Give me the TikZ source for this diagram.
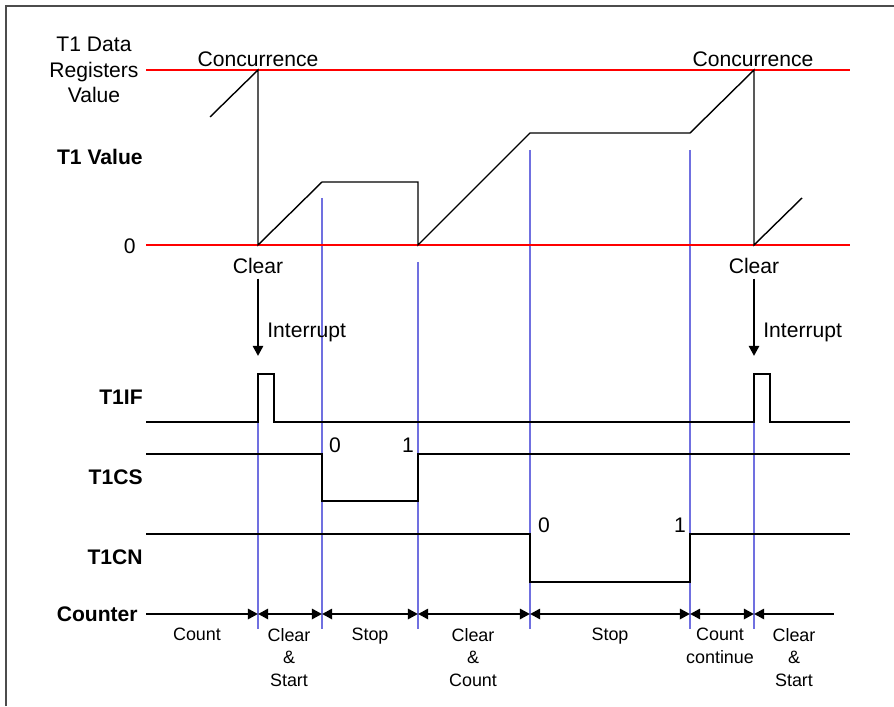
\documentclass[tikz,border=0pt]{standalone}
\usepackage{fontspec}
\setmainfont{Liberation Sans}
\usetikzlibrary{arrows.meta}

\definecolor{markblue}{RGB}{112,112,224}

\tikzset{
	lbl/.style={font=\fontsize{12}{14.5}\selectfont, inner sep=0pt},
	signame/.style={font=\fontsize{12}{14.5}\selectfont\bfseries, inner sep=0pt, anchor=east},
	phase/.style={font=\fontsize{10.2}{12.8}\selectfont, inner sep=0pt, anchor=north, align=center},
	level/.style={red, line width=0.7pt},
	wave/.style={black, line width=0.8pt},
	marker/.style={markblue, line width=1pt},
	cntarrow/.style={line width=1.7pt, arrows={-}},
	intarrow/.style={line width=1.4pt, -{Triangle[length=5.8pt,width=5.8pt]}},
	frameline/.style={black!70, line width=1.1pt}
}

\begin{document}
\begin{tikzpicture}
	
	\useasboundingbox (0,0) rectangle (17.88,14.12);
	
	% Frame
	\draw [frameline] (0.12,0) -- (0.12,14.0) -- (17.88,14.0);
	
	% Markers
	\foreach \x/\top in {5.16/5.68, 6.44/10.16, 8.36/8.88, 10.6/11.12, 13.8/11.12, 15.08/5.68}
	{
		\draw [marker] (\x,\top) -- (\x,1.54);
	}
	
	%% T1 VALUE
	% Labels
	\node [lbl, align=center] (regval) at (1.88,12.72) {T1 Data\\Registers\\Value};
	\node [signame] (t1val) at (2.86,10.98) {T1 Value};
	\node [lbl, anchor=east] (zero) at (2.72,9.2) {0};
	
	% Levels
	\draw [level] (2.92,12.72) -- (17.0,12.72);
	\draw [level] (2.92,9.22) -- (17.0,9.22);
	
	% Counting
	\draw [wave] (4.2,11.78) -- (5.16,12.72) -- (5.16,9.22) -- (6.44,10.48) -- (8.36,10.48)
		-- (8.36,9.22) -- (10.6,11.46) -- (13.8,11.46) -- (15.08,12.72) -- (15.08,9.22) -- (16.04,10.16);
	
	\node [lbl, anchor=south] (conc1) at (5.16,12.78) {Concurrence};
	\node [lbl, anchor=south] (conc2) at (15.06,12.78) {Concurrence};
	\node [lbl] (clr1) at (5.16,8.81) {Clear};
	\node [lbl] (clr2) at (15.08,8.81) {Clear};
	
	% Interrupts
	\coordinate (int1) at (5.16,7.0);
	\coordinate (int2) at (15.08,7.0);
	\draw [intarrow, shorten <=0.1cm] (clr1) -- (int1);
	\draw [intarrow, shorten <=0.1cm] (clr2) -- (int2);
	\node [lbl, anchor=west] (intlbl1) at (5.34,7.48) {Interrupt};
	\node [lbl, anchor=west] (intlbl2) at (15.26,7.48) {Interrupt};
	
	%% FLAGS
	% T1IF
	\node [signame] (t1if) at (2.86,6.18) {T1IF};
	\draw [wave] (2.92,5.68) -- (5.16,5.68) -- (5.16,6.64) -- (5.48,6.64) -- (5.48,5.68)
		-- (15.08,5.68) -- (15.08,6.64) -- (15.40,6.64) -- (15.40,5.68) -- (17.0,5.68);
	
	% T1CS
	\node [signame] (t1cs) at (2.86,4.58) {T1CS};
	\draw [wave] (2.92,5.04) -- (6.44,5.04) -- (6.44,4.10) -- (8.36,4.10) -- (8.36,5.04) -- (17.0,5.04);
	\node [lbl] (cs0) at (6.7,5.22) {0};
	\node [lbl] (cs1) at (8.16,5.22) {1};
	
	% T1CN
	\node [signame] (t1cn) at (2.86,2.98) {T1CN};
	\draw [wave] (2.92,3.44) -- (10.6,3.44) -- (10.6,2.48) -- (13.8,2.48) -- (13.8,3.44) -- (17.0,3.44);
	\node [lbl] (cn0) at (10.88,3.62) {0};
	\node [lbl] (cn1) at (13.6,3.62) {1};
	
	%% COUNTER
	\node [signame] (cnt) at (2.76,1.84) {Counter};
	
	% Boundaries
	\foreach \n/\x in {a/2.92, b/5.16, c/6.44, d/8.36, e/10.6, f/13.8, g/15.08, h/16.68}
	{
		\coordinate (c\n) at (\x,1.84);
	}
	
	% Phases
	\draw [cntarrow, -{Triangle[length=5.8pt,width=5.8pt]}] (ca) -- (cb);
	\foreach \p/\q in {b/c, c/d, d/e, e/f, f/g}
	{
		\draw [cntarrow, {Triangle[length=5.8pt,width=5.8pt]}-{Triangle[length=5.8pt,width=5.8pt]}] (c\p) -- (c\q);
	}
	\draw [cntarrow, {Triangle[length=5.8pt,width=5.8pt]}-] (cg) -- (ch);
	
	\node [phase] (ph1) at (3.94,1.56) {Count};
	\node [phase] (ph2) at (5.78,1.56) {Clear\\\&\\Start};
	\node [phase] (ph3) at (7.4,1.56) {Stop};
	\node [phase] (ph4) at (9.46,1.56) {Clear\\\&\\Count};
	\node [phase] (ph5) at (12.2,1.56) {Stop};
	\node [phase] (ph6) at (14.4,1.56) {Count\\continue};
	\node [phase] (ph7) at (15.88,1.56) {Clear\\\&\\Start};
	
\end{tikzpicture}
\end{document}
